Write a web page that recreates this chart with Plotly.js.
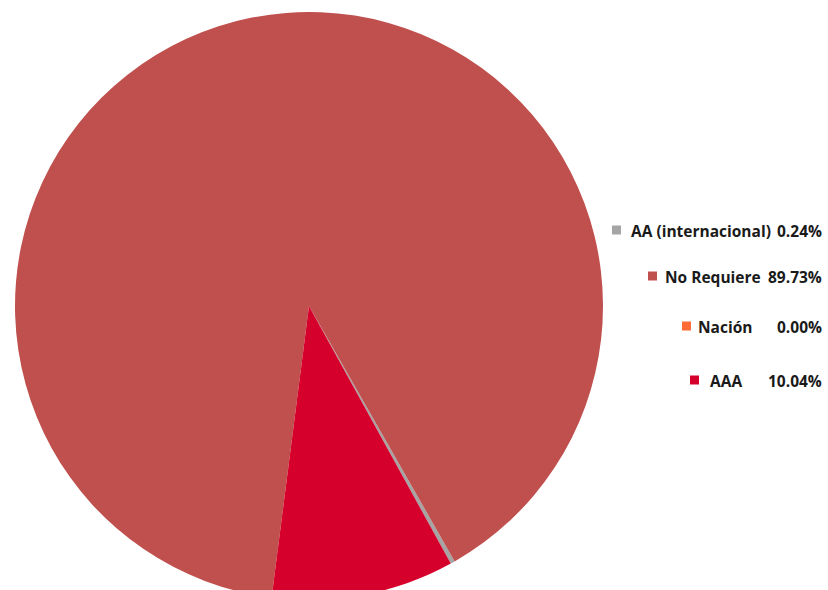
<!DOCTYPE html>
<html>
<head>
<meta charset="utf-8">
<script src="https://cdn.plot.ly/plotly-3.0.1.min.js"></script>
<style>html,body{margin:0;padding:0;overflow:hidden;background:#fff}</style>
</head>
<body>
<div id="chart" style="width:828px;height:600px"></div>
<script>
const labels = ["AA (internacional)", "No Requiere", "Nación", "AAA"];
const values = [0.24, 89.73, 0.00, 10.04];
const pctLabels = ["0.24%", "89.73%", "0.00%", "10.04%"];
const colors = ["#a5a5a5", "#c0504d", "#ff6b35", "#d5002b"];

const W = 828, H = 600;
const rowY = [231, 277, 327, 381];
const labelEnd = [772, 762, 753, 743];
const squareX = [612, 648, 682, 690];
const sq = 9;
const pctEnd = 823;
const fontFam = "'Open Sans', sans-serif";
const fontSize = 15.5;

const annotations = [];
const shapes = [];
labels.forEach((lab, i) => {
  annotations.push({
    xref: "paper", yref: "paper",
    x: labelEnd[i] / W, y: (H - rowY[i]) / H,
    xanchor: "right", yanchor: "middle",
    showarrow: false, borderpad: 0,
    text: lab,
    font: {family: fontFam, size: fontSize, color: "#1a1a1a", weight: 700}
  });
  annotations.push({
    xref: "paper", yref: "paper",
    x: pctEnd / W, y: (H - rowY[i]) / H,
    xanchor: "right", yanchor: "middle",
    showarrow: false, borderpad: 0,
    text: pctLabels[i],
    font: {family: fontFam, size: fontSize, color: "#1a1a1a", weight: 700}
  });
  shapes.push({
    type: "rect", xref: "paper", yref: "paper",
    x0: squareX[i] / W, x1: (squareX[i] + sq) / W,
    y0: (H - rowY[i] - sq / 2 + 1) / H, y1: (H - rowY[i] + sq / 2 + 1) / H,
    fillcolor: colors[i], line: {width: 0}
  });
});

const data = [{
  type: "pie",
  labels: labels,
  values: values,
  sort: false,
  direction: "counterclockwise",
  rotation: 150.3,
  textinfo: "none",
  hoverinfo: "label+percent",
  marker: {colors: colors, line: {width: 0}},
  domain: {x: [15 / W, 603 / W], y: [0, 588 / H]},
  showlegend: false
}];

const layout = {
  width: W, height: H,
  margin: {l: 0, r: 0, t: 0, b: 0},
  paper_bgcolor: "#ffffff",
  showlegend: false,
  annotations: annotations,
  shapes: shapes
};

Plotly.newPlot("chart", data, layout, {displayModeBar: false, staticPlot: true});
</script>
</body>
</html>
